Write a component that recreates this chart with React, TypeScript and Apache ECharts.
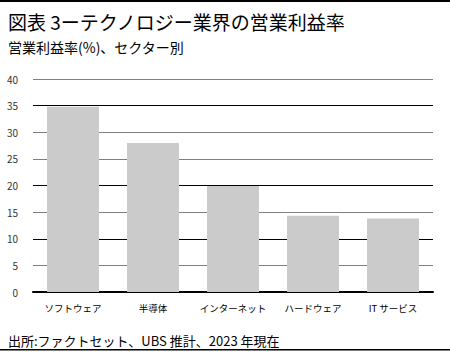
import React, { useEffect, useRef } from "react";
import * as echarts from "echarts";

const categories = ["ソフトウェア", "半導体", "インターネット", "ハードウェア", "IT サービス"];
const margins = [34.8, 28.0, 19.9, 14.3, 13.8];
const gridColors = ["#000", "#808080", "#000", "#808080", "#000", "#808080", "#808080", "#000", "#808080"];

const FONT = "'Noto Sans CJK JP', 'Noto Sans', sans-serif";

export default function App() {
  const ref = useRef<HTMLDivElement>(null);
  useEffect(() => {
    if (!ref.current) return;
    const chart = echarts.init(ref.current, undefined, { renderer: "svg" });
    chart.setOption({
      animation: false,
      backgroundColor: "#fff",
      textStyle: { fontFamily: FONT },
      title: [
        {
          text: "図表 3ーテクノロジー業界の営業利益率",
          left: 3,
          top: 7,
          textStyle: { fontSize: 19, fontWeight: "normal", color: "#000", fontFamily: FONT },
        },
        {
          text: "営業利益率(%)、セクター別",
          left: 3,
          top: 35,
          textStyle: { fontSize: 14, fontWeight: "normal", color: "#000", fontFamily: FONT },
        },
        {
          text: "出所:ファクトセット、UBS 推計、2023 年現在",
          left: 3,
          top: 329,
          textStyle: { fontSize: 13, fontWeight: "normal", color: "#000", fontFamily: FONT },
        },
      ],
      graphic: [
        { type: "rect", left: 0, top: 0, shape: { width: 450, height: 2 }, style: { fill: "#000" } },
        { type: "rect", left: 0, top: 349, shape: { width: 450, height: 1.5 }, style: { fill: "#000" } },
      ],
      grid: { left: 33, right: 17, top: 79, bottom: 61 },
      xAxis: {
        type: "category",
        data: categories,
        axisLine: { show: true, lineStyle: { color: "#000", width: 2 } },
        axisTick: { show: false },
        axisLabel: { color: "#000", fontSize: 9.5, margin: 11, interval: 0, fontFamily: FONT },
      },
      yAxis: {
        type: "value",
        min: 0,
        max: 40,
        interval: 5,
        axisLine: { show: false },
        axisTick: { show: false },
        axisLabel: { color: "#333", fontSize: 10, margin: 15, fontFamily: FONT },
        splitLine: { show: true, lineStyle: { color: gridColors, width: 1 } },
      },
      series: [
        {
          type: "bar",
          data: margins,
          barWidth: "65%",
          itemStyle: { color: "#cbcbcb" },
        },
      ],
    });
    return () => chart.dispose();
  }, []);
  return <div ref={ref} style={{ width: 450, height: 353, position: "absolute", left: 0, top: 0 }} />;
}
